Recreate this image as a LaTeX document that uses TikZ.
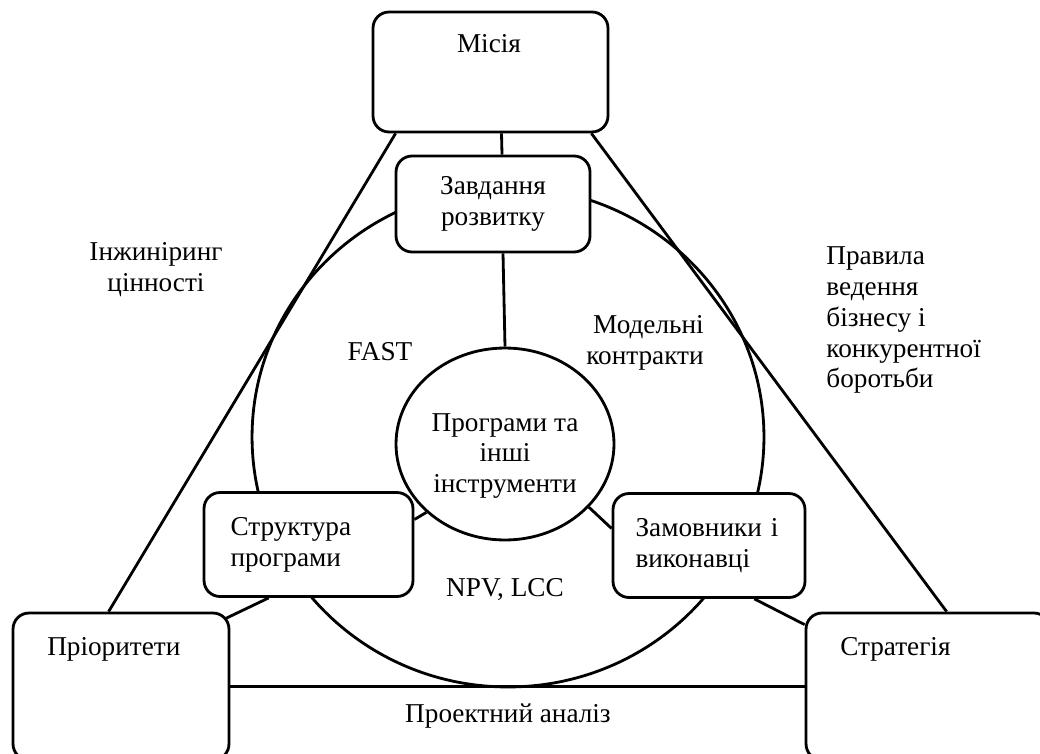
\documentclass[tikz,border=0pt]{standalone}
\usepackage{fontspec}
\setmainfont{Liberation Serif}
\usetikzlibrary{shapes.geometric,calc}

\begin{document}
\begin{tikzpicture}[x=0.02cm, y=-0.02cm, line width=1.6pt,
	every node/.style={font=\fontsize{15.5}{17.6}\selectfont},
	box/.style={draw, rounded corners=0.32cm, fill=white, inner sep=0pt},
	big/.style={box, minimum height=2.94cm},
	small/.style={box, minimum height=2.08cm, text width=#1, align=left},
	oval/.style={draw, ellipse, inner sep=0pt}]

		\useasboundingbox (0,0) rectangle (1040,753);

		\node[oval, minimum width=10.24cm, minimum height=10cm] (ring) at (508,437) {};

		\node[box, minimum width=4.7cm, minimum height=2.4cm] (misia) at (490.5,72) {};
		\node[anchor=base] (misiat) at (489,53) {Місія};
		\node[box, minimum width=3.88cm, minimum height=1.92cm, align=center] (zavd) at (493,204) {Завдання\\розвитку};
		\node[small=3.12cm, inner xsep=0.53cm] (strukt) at (308.5,544.5) {Структура\\програми};
		\node[small=2.94cm, inner xsep=0.45cm] (zamov) at (709,545.5) {Замовники і\\виконавці};
		\node[big, minimum width=4.32cm] (prior) at (121,686.5) {};
		\node[anchor=base west] (priort) at (40,655) {Пріоритети};
		\node[big, minimum width=4.88cm] (strat) at (928,686.5) {};
		\node[anchor=base west] (stratt) at (833,655) {Стратегія};
		\node[oval, minimum width=4.36cm, minimum height=3.84cm] (prog) at (505,444) {};
		\node[align=center] (progt) at (505,456) {Програми та\\інші\\інструменти};

		\node[align=center] (inzh) at (156,270) {Інжиніринг\\цінності};
		\node[anchor=north west, align=left, inner sep=0pt] (pravyla) at (825,245) {Правила\\ведення\\бізнесу і\\конкурентної\\боротьби};
		\node (fast) at (380,352) {FAST};
		\node[align=right] (model) at (645,343) {Модельні\\контракти};
		\node (npv) at (505,590) {NPV, LCC};
		\node (proekt) at (508,716) {Проектний аналіз};

		\draw ($(misia.south west)+(24,0)$) -- ($(prior.north west)+(97,0)$);
		\draw ($(misia.south east)+(-18,0)$) -- ($(strat.north west)+(142,0)$);
		\draw ($(misia.south)+(11,0)$) -- ($(zavd.north)+(9,0)$);
		\draw ($(zavd.south)+(10,0)$) -- (prog.north);
		\draw (prog.221) -- ($(strukt.east)+(0,-25)$);
		\draw (prog.323) -- ($(zamov.west)+(0,-17)$);
		\draw ($(strukt.south west)+(66,0)$) -- ($(prior.north east)+(-5,7)$);
		\draw ($(zamov.south east)+(-52,0)$) -- ($(strat.north west)+(0,13)$);
		\draw (prior.east) -- (strat.west);
	\end{tikzpicture}
\end{document}
